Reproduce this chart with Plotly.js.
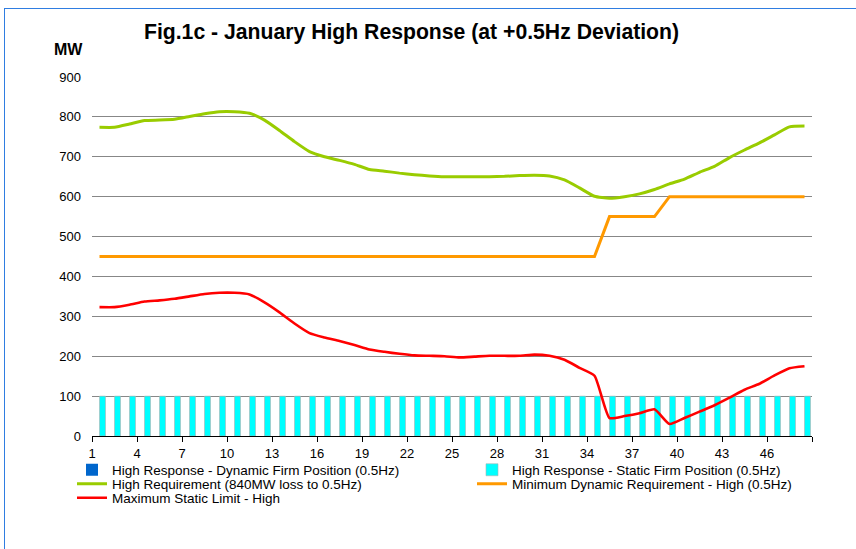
<!DOCTYPE html>
<html>
<head>
<meta charset="utf-8">
<script src="https://cdn.plot.ly/plotly-3.0.1.min.js"></script>
<style>
  html, body { margin: 0; padding: 0; background: #ffffff; overflow: hidden; }
  #chart { width: 856px; height: 549px; }
  #frame { position: absolute; left: 4px; top: 8px; width: 900px; height: 600px;
           border-left: 1.5px solid #2f7de1; border-top: 1.5px solid #2f7de1; pointer-events: none; }
</style>
</head>
<body>
<div id="chart"></div>
<div id="frame"></div>
<script>
// ---- data ----
const periods = [1,2,3,4,5,6,7,8,9,10,11,12,13,14,15,16,17,18,19,20,21,22,23,24,
                 25,26,27,28,29,30,31,32,33,34,35,36,37,38,39,40,41,42,43,44,45,46,47,48];
const tickLabels = ["1","4","7","10","13","16","19","22","25","28","31","34","37","40","43","46",""];

const dynamicFirm = [0,0,0,0,0,0,0,0,0,0,0,0,0,0,0,0,0,0,0,0,0,0,0,0,
                     0,0,0,0,0,0,0,0,0,0,0,0,0,0,0,0,0,0,0,0,0,0,0,0];
const staticFirm = [100,100,100,100,100,100,100,100,100,100,100,100,100,100,100,100,
                    100,100,100,100,100,100,100,100,100,100,100,100,100,100,100,100,
                    100,100,100,100,100,100,100,100,100,100,100,100,100,100,100,100];
const highRequirement = [774,774,782,791,792,794,801,808,813,813,809,792,766,738,713,700,
                         691,681,668,664,659,655,652,650,650,650,650,651,653,654,652,642,
                         622,601,596,600,607,618,632,644,661,676,698,717,735,755,775,777];
const minDynamic = [450,450,450,450,450,450,450,450,450,450,450,450,450,450,450,450,
                    450,450,450,450,450,450,450,450,450,450,450,450,450,450,450,450,
                    450,450,550,550,550,550,600,600,600,600,600,600,600,600,600,600];
const maxStatic = [323,323,329,337,340,344,350,356,359,359,355,335,310,282,258,247,
                   238,228,217,211,206,202,201,200,197,199,201,201,201,204,201,191,
                   171,151,45,50,57,67,30,45,61,77,96,116,131,152,170,175];

const names = [
  "High Response - Dynamic Firm Position (0.5Hz)",
  "High Response - Static Firm Position (0.5Hz)",
  "High Requirement (840MW loss to 0.5Hz)",
  "Minimum Dynamic Requirement - High (0.5Hz)",
  "Maximum Static Limit - High"
];

const FONT = "Liberation Sans, Arial, Helvetica, sans-serif";

// tick positions at category boundaries, every 3 categories
const tickPos = [];
for (let k = 0; k < tickLabels.length; k++) tickPos.push(periods[0] - 0.5 + 3 * k);

const traces = [
  { type: "bar", x: periods, y: dynamicFirm, name: names[0], legend: "legend",
    marker: { color: "#0066cc", line: { width: 0 } } },
  { type: "bar", x: periods, y: staticFirm, name: names[1], legend: "legend2",
    marker: { color: "#00ffff", line: { color: "#b0b0b0", width: 0.6 } } },
  { type: "scatter", mode: "lines", x: periods, y: highRequirement, name: names[2], legend: "legend3",
    line: { color: "#99cc00", width: 3, shape: "spline", smoothing: 0.5 } },
  { type: "scatter", mode: "lines", x: periods, y: minDynamic, name: names[3], legend: "legend4",
    line: { color: "#ff9900", width: 3 } },
  { type: "scatter", mode: "lines", x: periods, y: maxStatic, name: names[4], legend: "legend5",
    line: { color: "#ff0000", width: 2.6, shape: "spline", smoothing: 0.5 } }
];

const plotL = 92, plotR = 812, plotT = 77, plotB = 436;
const pw = plotR - plotL, ph = plotB - plotT;
const px2x = p => (p - plotL) / pw;
const py2y = p => (plotB - p) / ph;

function legendAt(xPix, yPix) {
  return {
    orientation: "h", x: px2x(xPix), y: py2y(yPix), xanchor: "left", yanchor: "middle",
    traceorder: "normal",
    font: { family: FONT, size: 13.5, color: "#000" }, bgcolor: "rgba(0,0,0,0)",
    itemwidth: 30
  };
}

const layout = {
  width: 856, height: 549,
  margin: { l: plotL, r: 856 - plotR, t: plotT, b: 549 - plotB, pad: 0 },
  paper_bgcolor: "#ffffff", plot_bgcolor: "#ffffff",
  font: { family: FONT, size: 13, color: "#000" },
  title: { text: "Fig.1c - January High Response (at +0.5Hz Deviation)",
           font: { family: FONT, size: 21.2, color: "#000", weight: "bold" },
           x: 411.5 / 856, xref: "container", xanchor: "center",
           y: 1 - 32 / 549, yref: "container", yanchor: "middle" },
  barmode: "group", bargap: 0.2, bargroupgap: 0,
  showlegend: true,
  legend: legendAt(72, 470),
  legend2: legendAt(472, 470),
  legend3: legendAt(72, 484),
  legend4: legendAt(472, 484),
  legend5: legendAt(72, 498),
  xaxis: {
    range: [periods[0] - 0.5, periods[periods.length - 1] + 0.5],
    tickmode: "array", tickvals: tickPos, ticktext: tickLabels,
    ticklabelshift: 7.5, ticks: "outside", ticklen: 5, tickwidth: 1, tickcolor: "#000",
    showline: true, linecolor: "#000", linewidth: 1,
    showgrid: false, zeroline: false,
    tickfont: { family: FONT, size: 13, color: "#000" }
  },
  yaxis: {
    range: [0, 900], tickmode: "linear", tick0: 0, dtick: 100,
    showgrid: true, gridcolor: "#878787", gridwidth: 1,
    zeroline: false, showline: false, ticks: "",
    ticklabelstandoff: 10,
    tickfont: { family: FONT, size: 13, color: "#000" }
  },
  annotations: [
    { text: "<b>MW</b>", xref: "paper", yref: "paper", x: px2x(68), y: py2y(49),
      xanchor: "center", yanchor: "middle", showarrow: false,
      font: { family: FONT, size: 16, color: "#000" } }
  ]
};

Plotly.newPlot("chart", traces, layout, { displayModeBar: false, staticPlot: true });
</script>
</body>
</html>
